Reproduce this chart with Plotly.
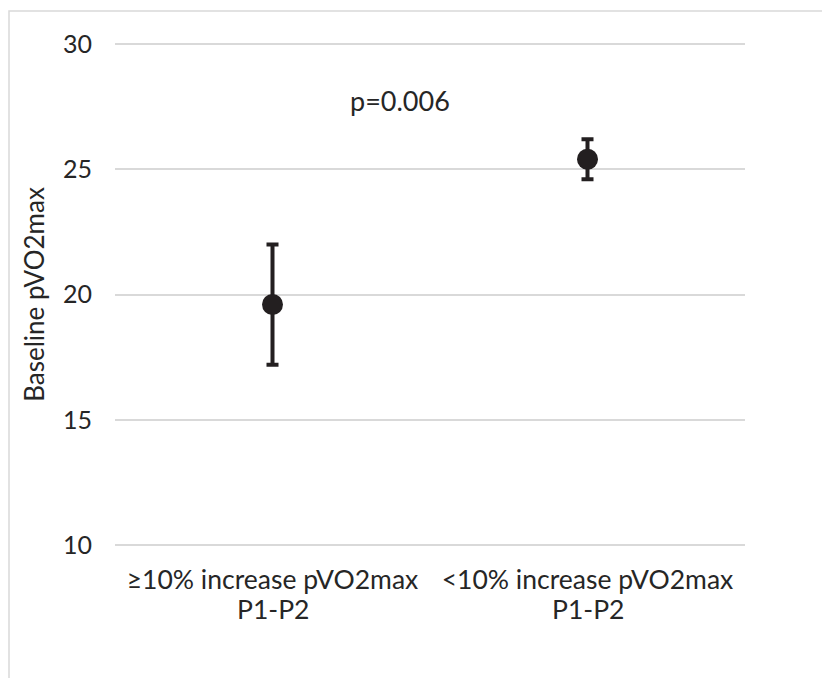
import plotly.graph_objects as go

cat_line1 = ["≥10% increase pVO2max", "<10% increase pVO2max"]
cat_line2 = ["P1-P2", "P1-P2"]
means = [19.6, 25.4]
err_plus = [2.4, 0.8]
err_minus = [2.4, 0.8]
y_ticks = [10, 15, 20, 25, 30]
p_label = "p=0.006"

W, H = 830, 678
OFF = 8  # page body margin
L, R, T, B = 107, 93, 34, 139
pw = W - L - R
ph = H - T - B

def px_x(p):
    return (p - OFF - L) / pw

def px_y(p):
    return (H - B - (p - OFF)) / ph

dark = "#231f20"
txt = "#262626"
font_fam = "Lato, 'Open Sans', sans-serif"

fig = go.Figure()
fig.add_trace(go.Scatter(
    x=cat_line1, y=means, mode="markers",
    marker=dict(size=21, color=dark),
    error_y=dict(type="data", symmetric=False, array=err_plus, arrayminus=err_minus,
                 color=dark, thickness=4, width=6),
    showlegend=False,
))

for c, t in zip(cat_line1, cat_line2):
    fig.add_annotation(x=c, y=px_y(609), xref="x", yref="paper", text=t, showarrow=False,
                       yanchor="middle", font=dict(size=26.5, color=txt, family=font_fam))

fig.add_annotation(x=px_x(400), y=27.76, xref="paper", yref="y", text=p_label,
                   showarrow=False, font=dict(size=27, color=txt, family=font_fam))

fig.add_shape(type="rect", xref="paper", yref="paper",
              x0=px_x(9), x1=px_x(850), y0=px_y(720), y1=px_y(11),
              line=dict(color="#d9d9d9", width=1.5), fillcolor="rgba(0,0,0,0)", layer="below")

fig.update_layout(
    width=W, height=H,
    margin=dict(l=L, r=R, t=T, b=B),
    paper_bgcolor="white", plot_bgcolor="white",
    font=dict(family=font_fam, color=txt),
    xaxis=dict(type="category", range=[-0.5, 1.5], showgrid=False, showline=False, zeroline=False,
               ticks="", ticklabelstandoff=14, tickfont=dict(size=26.5, color=txt)),
    yaxis=dict(range=[9.92, 30.08], tickvals=y_ticks, showgrid=True, gridcolor="#d9d9d9", gridwidth=1.5,
               zeroline=False, showline=False, ticks="", ticklabelstandoff=22,
               tickfont=dict(size=25, color=txt),
               title=dict(text="Baseline pVO2max", font=dict(size=26, color=txt), standoff=10)),
)

fig.write_html("out.html")
